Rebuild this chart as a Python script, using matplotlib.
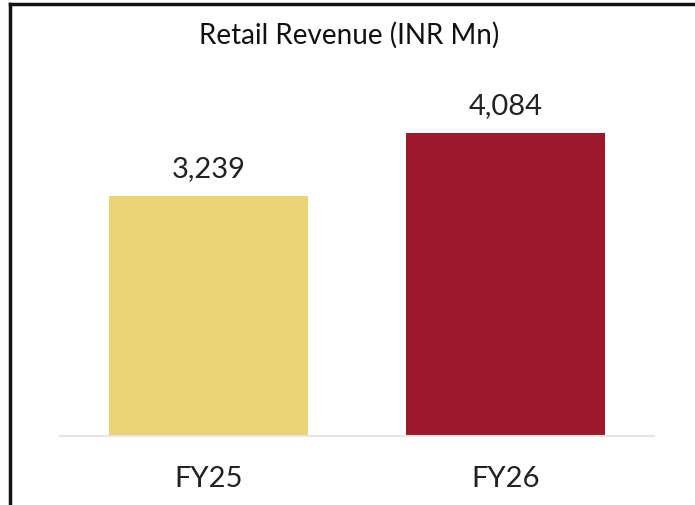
import matplotlib.pyplot as plt
from matplotlib.lines import Line2D

categories = ["FY25", "FY26"]
values = [3239, 4084]
colors = ["#EBD475", "#9E182C"]
title = "Retail Revenue (INR Mn)"

plt.rcParams['font.family'] = ['Lato', 'DejaVu Sans']

fig = plt.figure(figsize=(6.95, 5.06), dpi=100)
W, H = 695, 506
ax = fig.add_axes([60 / W, (H - 437) / H, 594 / W, (437 - 70) / H])

x = range(len(categories))
ax.bar(x, values, width=0.67, color=colors, zorder=2)
for xi, v in zip(x, values):
    ax.text(xi, v + 200, f"{v:,}", ha="center", va="bottom", fontsize=21,
            color="#222222")

ax.set_xlim(-0.5, 1.5)
ax.set_ylim(0, 4950)
ax.set_yticks([])
ax.set_xticks(list(x))
ax.set_xticklabels(categories, fontsize=21, color="#222222")
ax.tick_params(axis="x", length=0, pad=21)
for s in ["top", "right", "left"]:
    ax.spines[s].set_visible(False)
ax.spines["bottom"].set_color("#e6e6e6")
ax.spines["bottom"].set_linewidth(1.5)

fig.text(349 / W, 1 - 35 / H, title, ha="center", va="center", fontsize=20,
         color="#111111")

# outer frame (left and top only)
fig.add_artist(Line2D([10 / W, 10 / W], [0, 1 - 5 / H], transform=fig.transFigure,
                      color="#111111", linewidth=2.5))
fig.add_artist(Line2D([10 / W, 1], [1 - 5 / H, 1 - 5 / H], transform=fig.transFigure,
                      color="#111111", linewidth=2.5))

fig.savefig("out.png", dpi=100)
